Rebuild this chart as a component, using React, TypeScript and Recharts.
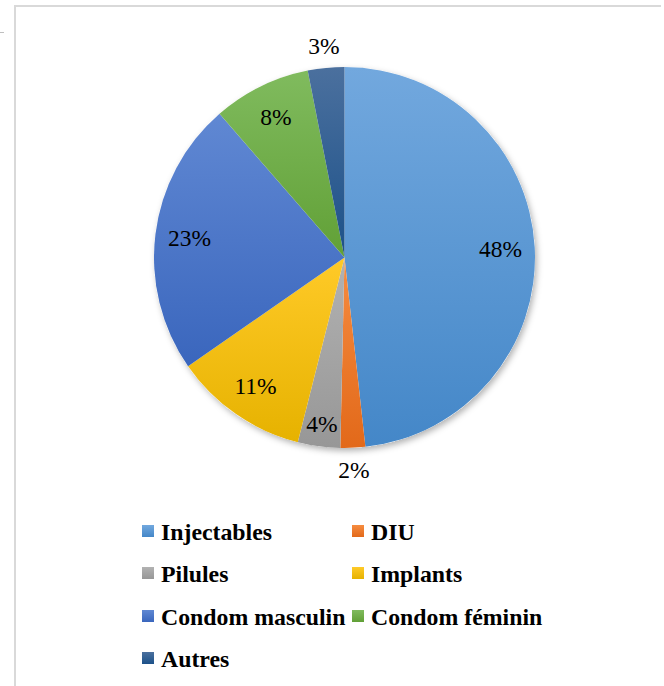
import React from 'react';
import { PieChart, Pie, Cell, Legend } from 'recharts';

const names = ['Injectables', 'DIU', 'Pilules', 'Implants', 'Condom masculin', 'Condom féminin', 'Autres'];
const values = [48.3, 2.1, 3.6, 11.4, 23.3, 8.3, 3.1];
const topColors = ['#72a8de', '#f68c40', '#b2b2b2', '#ffca28', '#6088d3', '#80bb5e', '#4b709e'];
const bottomColors = ['#4487c8', '#e2691a', '#979797', '#e6b200', '#3a66bd', '#61a036', '#1c5189'];

const data = names.map((n, i) => ({ name: n, value: values[i] }));
const totalData = [{ name: 'total', value: values.reduce((a, b) => a + b, 0) }];

const RADIAN = Math.PI / 180;
const FONT = '"Liberation Serif", "Times New Roman", serif';

const renderLabel = (props: any) => {
  const { cx, cy, midAngle, outerRadius, percent, index } = props;
  const outside = percent < 0.035;
  const narrow = percent < 0.05;
  const r = outside ? outerRadius + 22 : narrow ? outerRadius * 0.88 : outerRadius * 0.82;
  const x = cx + r * Math.cos(-midAngle * RADIAN);
  const y = cy + r * Math.sin(-midAngle * RADIAN);
  return (
    <text
      key={`lbl-${index}`}
      x={x}
      y={y + 8}
      textAnchor="middle"
      fill="#000"
      style={{ fontFamily: FONT, fontSize: 23.5 }}
    >
      {`${Math.round(percent * 100)}%`}
    </text>
  );
};

const renderLegend = () => {
  return (
    <div style={{ position: 'relative', width: 664, height: 180 }}>
      {names.map((label: string, i: number) => {
        const col = i % 2;
        const row = Math.floor(i / 2);
        return (
          <div
            key={label}
            style={{
              position: 'absolute',
              left: 142 + col * 210,
              top: row * 42.3,
              height: 24,
              display: 'flex',
              alignItems: 'flex-start',
              whiteSpace: 'nowrap',
            }}
          >
            <span
              style={{
                display: 'inline-block',
                width: 12,
                height: 12,
                marginTop: 4,
                background: `linear-gradient(${topColors[i]}, ${bottomColors[i]})`,
              }}
            />
            <span
              style={{
                marginLeft: 7,
                fontFamily: FONT,
                fontWeight: 'bold',
                fontSize: 23.8,
                lineHeight: '23px',
                color: '#000',
              }}
            >
              {label}
            </span>
          </div>
        );
      })}
    </div>
  );
};

export default function App() {
  return (
    <div style={{ position: 'absolute', left: 0, top: 0, width: 664, height: 686, background: '#fff', overflow: 'hidden' }}>
      <div style={{ position: 'absolute', left: 14, top: 5, width: 647, height: 2, background: '#d9d9d9' }} />
      <div style={{ position: 'absolute', left: 14, top: 5, width: 2, height: 681, background: '#d9d9d9' }} />
      <div style={{ position: 'absolute', left: 0, top: 32, width: 4, height: 1, background: '#bfbfbf' }} />
      <div style={{ position: 'absolute', left: 0, top: 0 }}>
        <PieChart width={664} height={686} margin={{ top: 0, right: 0, bottom: 0, left: 0 }}>
          <defs>
            {names.map((n, i) => (
              <linearGradient key={n} id={`grad-${i}`} x1="0" y1="0" x2="0" y2="1">
                <stop offset="0%" stopColor={topColors[i]} />
                <stop offset="100%" stopColor={bottomColors[i]} />
              </linearGradient>
            ))}
            <filter id="pieShadow" x="-20%" y="-20%" width="140%" height="140%">
              <feDropShadow dx="2" dy="3" stdDeviation="3" floodColor="#000" floodOpacity="0.3" />
            </filter>
          </defs>
          <Pie
            data={totalData}
            dataKey="value"
            cx={344.5}
            cy={257.5}
            outerRadius={190.5}
            startAngle={90}
            endAngle={-270}
            stroke="none"
            isAnimationActive={false}
            legendType="none"
          >
            <Cell fill="#ffffff" style={{ filter: 'url(#pieShadow)' }} />
          </Pie>
          <Pie
            data={data}
            dataKey="value"
            nameKey="name"
            cx={344.5}
            cy={257.5}
            outerRadius={190.5}
            startAngle={90}
            endAngle={-270}
            stroke="none"
            label={renderLabel}
            labelLine={false}
            isAnimationActive={false}
          >
            {data.map((d, i) => (
              <Cell key={d.name} fill={`url(#grad-${i})`} />
            ))}
          </Pie>
          <Legend
            verticalAlign="bottom"
            content={renderLegend}
            wrapperStyle={{ position: 'absolute', left: 0, top: 521, width: 664, height: 180 }}
          />
        </PieChart>
      </div>
    </div>
  );
}
